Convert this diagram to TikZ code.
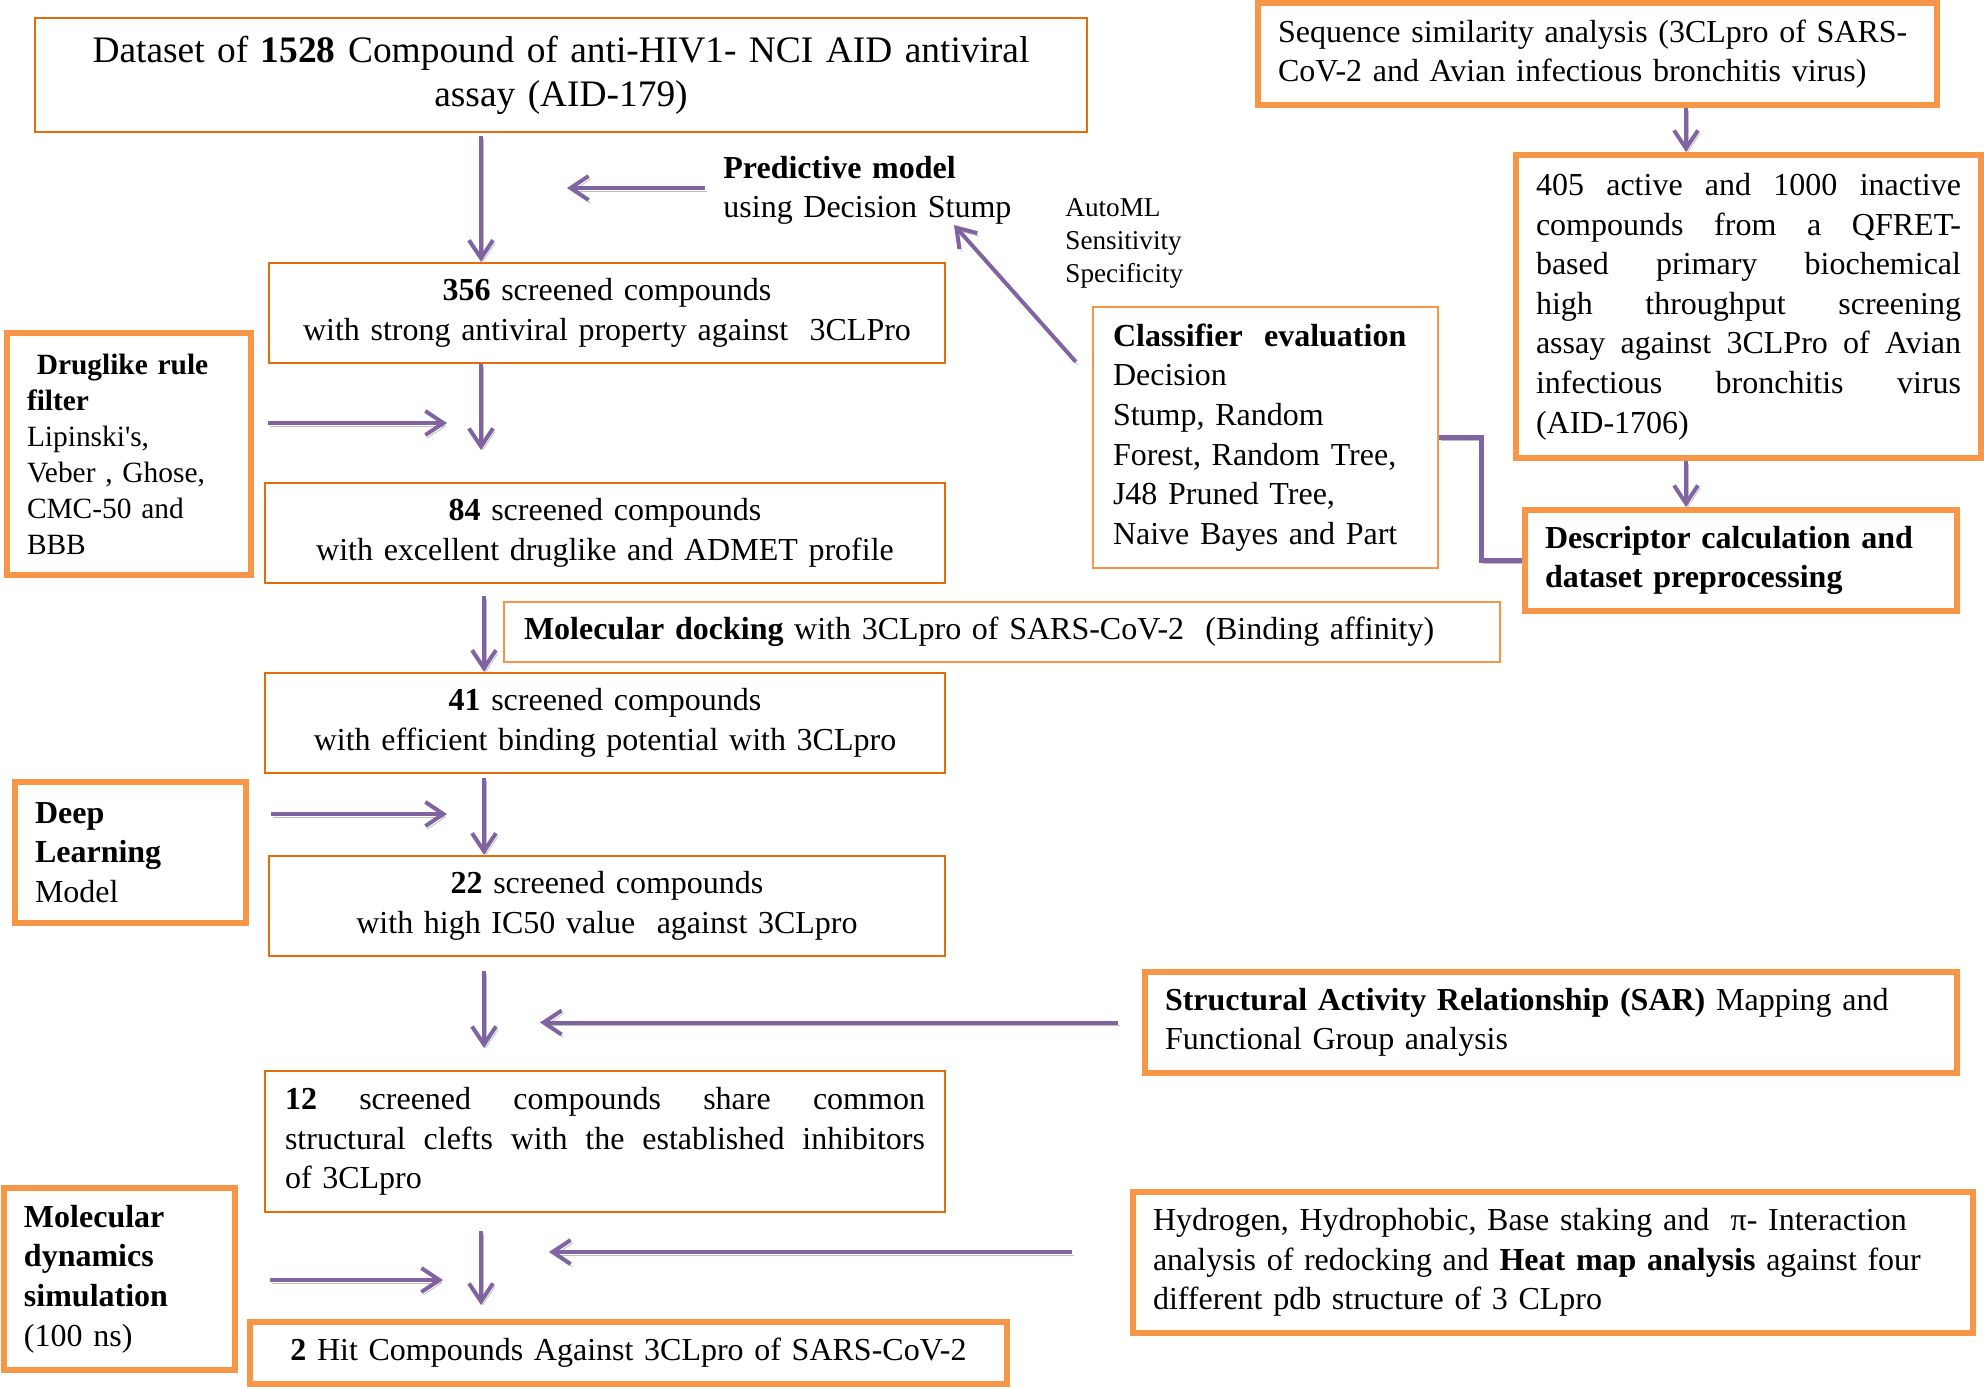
\documentclass[tikz,border=0pt]{standalone}
\usepackage{fontspec}
\setmainfont{Liberation Serif}
\usetikzlibrary{arrows.meta}
\definecolor{orT}{HTML}{E46C0A}
\definecolor{orL}{HTML}{F79646}
\definecolor{pur}{HTML}{8064A2}
\newcommand\jline[2]{\leavevmode\hbox to #1{#2}}
\begin{document}
\begin{tikzpicture}[x=0.5pt,y=-0.5pt,
  every node/.style={font=\fontsize{16}{19.8}\selectfont, inner xsep=10pt, inner ysep=0pt},
  thinbox/.style={draw=orT, line width=1.2pt},
  lthinbox/.style={draw=orL, line width=1.2pt},
  thickbox/.style={draw=orL, line width=3pt},
  arr/.style={draw=pur, line width=2pt, -{Straight Barb[length=9pt,width=12pt]},
    preaction={draw=black!25, transform canvas={xshift=1pt,yshift=-1.5pt}}},
  conn/.style={draw=pur, line width=2.5pt,
    preaction={draw=black!25, transform canvas={xshift=1pt,yshift=-1.5pt}}}
]
\useasboundingbox (0,0) rectangle (1984,1388);

% main flow boxes
\node[thinbox, minimum width=526pt, minimum height=57pt, text width=506pt, align=center,
  font=\fontsize{18.7}{22}\selectfont] (top) at (561,75)
  {Dataset of \textbf{1528} Compound of anti-HIV1- NCI AID antiviral\\assay (AID-179)};
\node[thinbox, minimum width=338pt, minimum height=50pt, text width=318pt, align=center] (b356) at (607,313)
  {\textbf{356} screened compounds\\with strong antiviral property against\ \ 3CLPro};
\node[thinbox, minimum width=340pt, minimum height=50pt, text width=320pt, align=center] (b84) at (605,533)
  {\textbf{84} screened compounds\\with excellent druglike and ADMET profile};
\node[thinbox, minimum width=340pt, minimum height=50pt, text width=320pt, align=center] (b41) at (605,723)
  {\textbf{41} screened compounds\\with efficient binding potential with 3CLpro};
\node[thinbox, minimum width=338pt, minimum height=50pt, text width=318pt, align=center] (b22) at (607,906)
  {\textbf{22} screened compounds\\with high IC50 value\ \ against 3CLpro};
\node[thinbox, minimum width=340pt, minimum height=70.5pt, text width=320pt, align=left] (b12) at (605,1141.5)
  {\jline{320pt}{\textbf{12}\hfill screened\hfill compounds\hfill share\hfill common}\\
   \jline{320pt}{structural\hfill clefts\hfill with\hfill the\hfill established\hfill inhibitors}\\
   \mbox{of 3CLpro}};
\node[thickbox, minimum width=378.5pt, minimum height=31pt, text width=358.5pt, align=center] (hit) at (628.5,1353)
  {\textbf{2} Hit Compounds Against 3CLpro of SARS-CoV-2};

% left boxes
\node[thickbox, minimum width=122pt, minimum height=121pt, text width=102pt, align=left,
  font=\fontsize{14.7}{18}\selectfont] (drug) at (129,454)
  {\mbox{\textbf{\ Druglike rule}}\\\textbf{filter}\\Lipinski\textquotesingle s,\\\mbox{Veber , Ghose,}\\\mbox{CMC-50 and}\\BBB};
\node[thickbox, minimum width=115.5pt, minimum height=70.5pt, text width=95.5pt, align=left] (deep) at (130.5,852.5)
  {\textbf{Deep}\\\textbf{Learning}\\Model};
\node[thickbox, minimum width=115.5pt, minimum height=91pt, text width=95.5pt, align=left] (md) at (119.5,1279)
  {\textbf{Molecular}\\\textbf{dynamics}\\\textbf{simulation}\\\mbox{(100 ns)}};

% right boxes
\node[thickbox, minimum width=339.5pt, minimum height=51pt, text width=319.5pt, align=left] (seq) at (1597.5,54)
  {\mbox{Sequence similarity analysis (3CLpro of SARS-}\\\mbox{CoV-2 and Avian infectious bronchitis virus)}};
\node[thickbox, minimum width=232.5pt, minimum height=151.5pt, text width=212.5pt, align=left] (a405) at (1748.5,306.5)
  {\jline{212.5pt}{405\hfill active\hfill and\hfill 1000\hfill inactive}\\
   \jline{212.5pt}{compounds\hfill from\hfill a\hfill QFRET-}\\
   \jline{212.5pt}{based\hfill primary\hfill biochemical}\\
   \jline{212.5pt}{high\hfill throughput\hfill screening}\\
   \jline{212.5pt}{assay\hfill against\hfill 3CLPro\hfill of\hfill Avian}\\
   \jline{212.5pt}{infectious\hfill bronchitis\hfill virus}\\
   (AID-1706)};
\node[thickbox, minimum width=216pt, minimum height=50.5pt, text width=196pt, align=left] (desc) at (1741,560.5)
  {\mbox{\textbf{Descriptor calculation and}}\\\mbox{\textbf{dataset preprocessing}}};
\node[lthinbox, minimum width=172.5pt, minimum height=130.5pt, text width=152.5pt, align=left] (cls) at (1265.5,437.5)
  {\mbox{\textbf{Classifier\ \ evaluation}}\\Decision\\\mbox{Stump, Random}\\\mbox{Forest, Random Tree,}\\\mbox{J48 Pruned Tree,}\\\mbox{Naive Bayes and Part}};
\node[lthinbox, minimum width=498pt, minimum height=30pt, text width=478pt, align=left] (dock) at (1002,632)
  {\mbox{\textbf{Molecular docking} with 3CLpro of SARS-CoV-2\ \ (Binding affinity)}};
\node[thickbox, minimum width=406pt, minimum height=50.5pt, text width=386pt, align=left] (sar) at (1551,1022.5)
  {\mbox{\textbf{Structural Activity Relationship (SAR)} Mapping and}\\\mbox{Functional Group analysis}};
\node[thickbox, minimum width=420pt, minimum height=70.5pt, text width=400pt, align=left] (hyd) at (1553,1262.5)
  {\mbox{Hydrogen, Hydrophobic, Base staking and\ \ π- Interaction}\\\mbox{analysis of redocking and \textbf{Heat map analysis} against four}\\\mbox{different pdb structure of 3 CLpro}};

% free texts
\node[inner sep=0pt, text width=170pt, align=left, anchor=base west] (pred) at (723,178)
  {\textbf{Predictive model}\\using Decision Stump};
\node[inner sep=0pt, text width=70pt, align=left, anchor=base west,
  font=\fontsize{13.6}{16.5}\selectfont] (auto) at (1065,216)
  {AutoML\\Sensitivity\\Specificity};

% free connector ends
\coordinate (xa) at (481,0);
\coordinate (xb) at (484,0);
\coordinate (xc) at (1686,0);
\coordinate (g1) at (481,450);
\coordinate (g2) at (484,1048);
\coordinate (hd1) at (447,423);
\coordinate (hd2) at (447,814);
\coordinate (hs) at (540,1022.5);
\coordinate (hm) at (443,1280);
\coordinate (hh) at (549,1252);
\coordinate (hp) at (567,188);
\coordinate (hdiag) at (954,225);

% connectors
\draw[arr] ([yshift=-1.5pt]top.south -| xa) -- (b356.north -| xa);
\draw[arr] (b356.south -| xa) -- (g1);
\draw[arr] ([xshift=7pt]drug.east |- hd1) -- (hd1);
\draw[arr] ([yshift=-6pt]b84.south -| xb) -- (b41.north -| xb);
\draw[arr] ([xshift=11pt]deep.east |- hd2) -- (hd2);
\draw[arr] ([yshift=-2pt]b41.south -| xb) -- (b22.north -| xb);
\draw[arr] ([yshift=-7pt]b22.south -| xb) -- (g2);
\draw[arr] ([xshift=-12pt]sar.west |- hs) -- (hs);
\draw[arr] ([yshift=-9pt]b12.south -| xa) -- ([yshift=7pt]hit.north -| xa);
\draw[arr] ([xshift=16pt]md.east |- hm) -- (hm);
\draw[arr] ([xshift=-29pt]hyd.west |- hh) -- (hh);
\draw[arr] ([xshift=-9pt]pred.west |- hp) -- (hp);
\draw[arr] ([xshift=-8pt,yshift=-28pt]cls.north west) -- (hdiag);
\draw[arr] (seq.south -| xc) -- (a405.north -| xc);
\draw[arr] (a405.south -| xc) -- (desc.north -| xc);
\draw[conn] (cls.east) -- ++(42,0) |- (desc.west);
\end{tikzpicture}
\end{document}
